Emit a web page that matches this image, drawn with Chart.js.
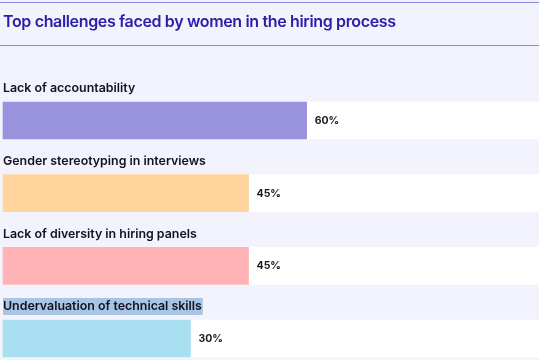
<!DOCTYPE html>
<html>
<head>
<meta charset="utf-8">
<script src="https://cdn.jsdelivr.net/npm/chart.js@4"></script>
<style>
  html, body { margin: 0; padding: 0; background: #f3f3fd; }
  #wrap { position: relative; width: 539px; height: 360px; overflow: hidden; }
  #hdr { position: absolute; left: 0; top: 1.5px; width: 539px; height: 44px;
         border-top: 1.5px solid #8d89d9; border-bottom: 1.5px solid #8d89d9; box-sizing: border-box; }
  #title { position: absolute; left: 3px; top: 11px; font-family: Inter, "Noto Sans", sans-serif;
           font-weight: 600; font-size: 16px; color: #2a20a8; white-space: nowrap; letter-spacing: -0.35px; }
  canvas { position: absolute; left: 0; top: 0; }
</style>
</head>
<body>
<div id="wrap">
  <canvas id="c" width="539" height="360"></canvas>
  <div id="hdr"></div>
  <div id="title">Top challenges faced by women in the hiring process</div>
</div>
<script>
const categories = [
  "Lack of accountability",
  "Gender stereotyping in interviews",
  "Lack of diversity in hiring panels",
  "Undervaluation of technical skills"
];
const values = [60, 45, 45, 30];
const trackMax = [120, 120, 120, 120];
const barColors = ["#9893dc", "#ffd49d", "#ffb3b7", "#a9def1"];
const axisMin = -18.4;
const axisMax = 120;

const labelPlugin = {
  id: 'labels',
  afterDatasetsDraw(chart) {
    const ctx = chart.ctx;
    const meta = chart.getDatasetMeta(1);
    ctx.save();
    meta.data.forEach((bar, i) => {
      const top = bar.y - bar.height / 2;
      ctx.font = '600 12.4px Inter, "Noto Sans", sans-serif';
      ctx.textBaseline = 'middle';
      ctx.textAlign = 'left';
      const ly = top - 13.5;
      if (i === 3) {
        const w = ctx.measureText(categories[i]).width;
        ctx.fillStyle = '#a8c5e3';
        ctx.fillRect(3, ly - 8.5, w + 1, 17);
      }
      ctx.fillStyle = '#111122';
      ctx.fillText(categories[i], 3, ly);
      ctx.font = '700 10.5px Inter, "Noto Sans", sans-serif';
      ctx.fillStyle = '#1b1b1b';
      ctx.fillText(values[i] + '%', bar.x + 8, bar.y + 0.5);
    });
    ctx.restore();
  }
};

new Chart(document.getElementById('c'), {
  type: 'bar',
  data: {
    labels: categories,
    datasets: [
      {
        data: trackMax,
        backgroundColor: '#ffffff',
        base: axisMin,
        barThickness: 37,
        grouped: false,
        clip: false,
        order: 2
      },
      {
        data: values,
        backgroundColor: barColors,
        base: axisMin,
        barThickness: 37,
        grouped: false,
        clip: false,
        order: 1
      }
    ]
  },
  options: {
    indexAxis: 'y',
    responsive: false,
    animation: false,
    layout: { padding: { left: 3, right: 0, top: 120.5, bottom: 21.5 } },
    scales: {
      x: { display: false, min: axisMin, max: axisMax, grid: { display: false } },
      y: { display: false, offset: false, grid: { display: false } }
    },
    plugins: {
      legend: { display: false },
      tooltip: { enabled: false },
      title: { display: false }
    }
  },
  plugins: [labelPlugin]
});
</script>
</body>
</html>
